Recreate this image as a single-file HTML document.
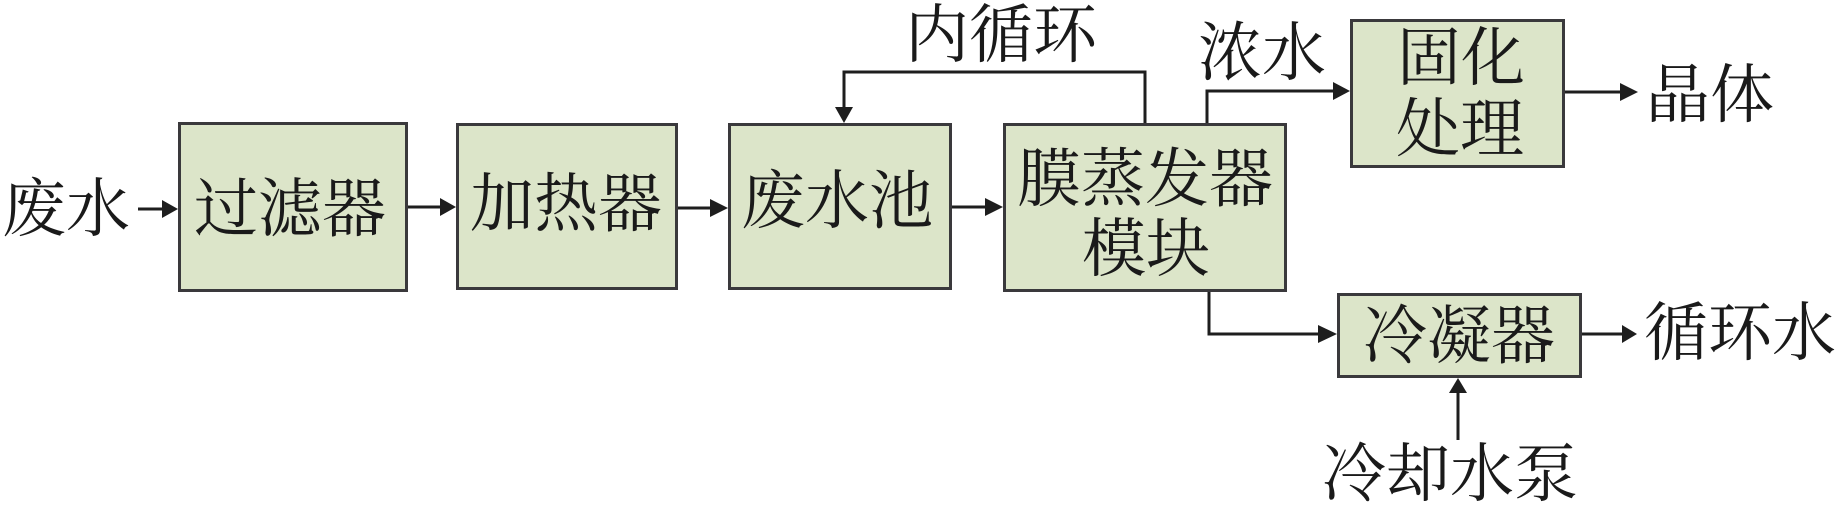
<!DOCTYPE html>
<html>
<head>
<meta charset="utf-8">
<style>
  html, body { margin:0; padding:0; background:#ffffff; }
  body { width:1841px; height:507px; overflow:hidden; }
  svg { display:block; }
  text { font-family: "Liberation Serif", "Noto Serif CJK SC", "Noto Sans CJK SC", serif; font-size:64px; fill:#1a1a1a; text-anchor:middle; }
</style>
</head>
<body>
<svg width="1841" height="507" viewBox="0 0 1841 507" xmlns="http://www.w3.org/2000/svg">
  <g fill="#dce5c9" stroke="#3a393c" stroke-width="3">
    <rect x="179.5" y="123.5" width="227" height="167"/>
    <rect x="457.5" y="124.5" width="219" height="164"/>
    <rect x="729.5" y="124.5" width="221" height="164"/>
    <rect x="1004.5" y="124.5" width="281" height="166"/>
    <rect x="1351.5" y="20.5" width="212" height="146"/>
    <rect x="1338.5" y="294.5" width="242" height="82"/>
  </g>

  <g fill="none" stroke="#1e1e1e" stroke-width="3">
    <line x1="138" y1="209" x2="163" y2="209"/>
    <line x1="408" y1="207" x2="441" y2="207"/>
    <line x1="678" y1="208" x2="711" y2="208"/>
    <line x1="952" y1="207" x2="986" y2="207"/>
    <polyline points="1145,123 1145,72 844,72 844,108"/>
    <polyline points="1207,123 1207,91 1334,91"/>
    <polyline points="1209,292 1209,334 1319,334"/>
    <line x1="1565" y1="92" x2="1621" y2="92"/>
    <line x1="1582" y1="334" x2="1623" y2="334"/>
    <line x1="1458" y1="440" x2="1458" y2="392"/>
  </g>

  <g fill="#1e1e1e">
    <polygon points="162,200 178,209 162,218"/>
    <polygon points="440,198 456,207 440,216"/>
    <polygon points="710,199 728,208 710,217"/>
    <polygon points="985,198 1003,207 985,216"/>
    <polygon points="835,107 844,123 853,107"/>
    <polygon points="1333,82 1350,91 1333,100"/>
    <polygon points="1318,325 1337,334 1318,343"/>
    <polygon points="1620,83 1638,92 1620,101"/>
    <polygon points="1622,325 1637,334 1622,343"/>
    <polygon points="1449,393 1458,378 1467,393"/>
  </g>

  <text x="66" y="231">废水</text>
  <text x="290" y="231">过滤器</text>
  <text x="566" y="226">加热器</text>
  <text x="837" y="223">废水池</text>
  <text x="1145" y="201">膜蒸发器</text>
  <text x="1146" y="271">模块</text>
  <text x="1001" y="57">内循环</text>
  <text x="1262" y="75">浓水</text>
  <text x="1461" y="80">固化</text>
  <text x="1460" y="151">处理</text>
  <text x="1710" y="117">晶体</text>
  <text x="1459" y="358">冷凝器</text>
  <text x="1740" y="355">循环水</text>
  <text x="1450" y="496">冷却水泵</text>
</svg>
</body>
</html>
